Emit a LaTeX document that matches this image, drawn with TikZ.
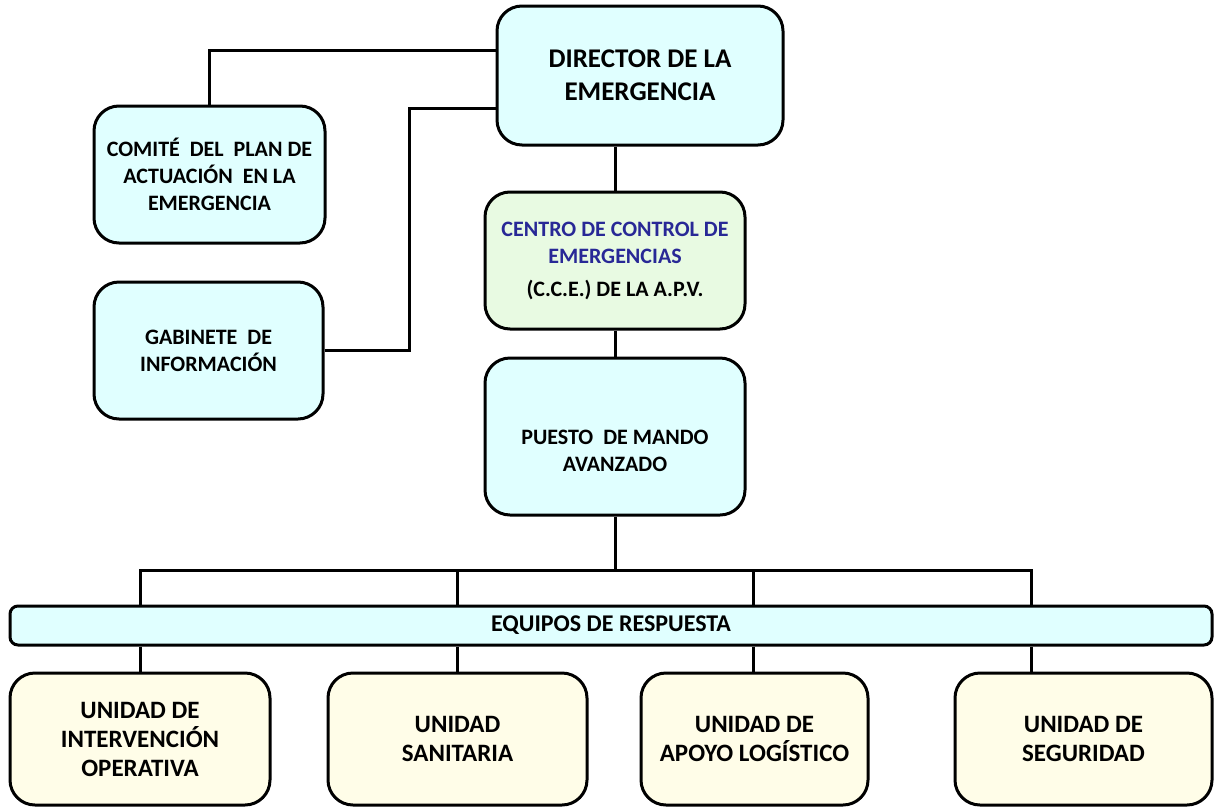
\documentclass[tikz,border=0pt]{standalone}
\usepackage{fontspec}
\setmainfont{Carlito}
\usetikzlibrary{calc}
\definecolor{cyanfill}{RGB}{224,255,255}
\definecolor{greenfill}{RGB}{232,250,226}
\definecolor{yellowfill}{RGB}{255,253,232}
\definecolor{ccetext}{RGB}{40,40,150}
\begin{document}
\begin{tikzpicture}[x=1pt,y=-1pt,
  box/.style={draw,line width=3pt,rounded corners=25pt,align=center,inner sep=0pt,font=\bfseries\fontsize{22}{27}\selectfont},
  cbox/.style={box,fill=cyanfill},
  gbox/.style={box,fill=greenfill},
  ybox/.style={box,fill=yellowfill,font=\bfseries\fontsize{25}{29}\selectfont},
  conn/.style={line width=3pt}]
\useasboundingbox (0,0) rectangle (1215,809);
% nodes
\node[cbox,minimum width=286pt,minimum height=139pt,font=\bfseries\fontsize{27}{33}\selectfont] (dir) at (640,75.5) {DIRECTOR DE LA\\EMERGENCIA};
\node[cbox,minimum width=231pt,minimum height=137pt] (com) at (209.5,174.5) {COMITÉ \ DEL \ PLAN DE\\ACTUACIÓN \ EN LA\\EMERGENCIA};
\node[cbox,minimum width=229pt,minimum height=137pt] (gab) at (208.5,350.5) {GABINETE \ DE\\INFORMACIÓN};
\node[gbox,minimum width=260pt,minimum height=137pt] (cce) at (615,260.5) {\textcolor{ccetext}{CENTRO DE CONTROL DE}\\\textcolor{ccetext}{EMERGENCIAS}\\[6pt](C.C.E.) DE LA A.P.V.};
\node[cbox,minimum width=260pt,minimum height=157pt] (pmv) at (615,436.5) {};
\node[font=\bfseries\fontsize{22}{27}\selectfont,align=center] (pmvt) at (615,451) {PUESTO \ DE MANDO\\AVANZADO};
\node[cbox,rounded corners=8pt,minimum width=1202pt,minimum height=39pt,font=\bfseries\fontsize{24}{27}\selectfont] (bar) at (611,625.5) {EQUIPOS DE RESPUESTA};
\node[ybox,minimum width=260pt,minimum height=132pt] (u1) at (140,739) {UNIDAD DE\\INTERVENCIÓN\\OPERATIVA};
\node[ybox,minimum width=259pt,minimum height=132pt] (u2) at (457.5,739) {UNIDAD\\SANITARIA};
\node[ybox,minimum width=227pt,minimum height=132pt] (u3) at (754.5,739) {UNIDAD DE\\APOYO LOGÍSTICO};
\node[ybox,minimum width=257pt,minimum height=132pt] (u4) at (1083.5,739) {UNIDAD DE\\SEGURIDAD};
% bus coordinates
\coordinate (bc) at (615,570);
\coordinate (b1) at (140,570);
\coordinate (b2) at (457,570);
\coordinate (b3) at (753,570);
\coordinate (b4) at (1031,570);
% connectors
\draw[conn] (com.north) |- (dir.west |- 0,50);
\draw[conn] (gab.east) -- ++(85,0) |- (dir.west |- 0,108);
\draw[conn] (dir.south -| cce.north) -- (cce.north);
\draw[conn] (cce.south) -- (pmv.north);
\draw[conn] (pmv.south) -- (bc);
\draw[conn,line cap=rect] (b1) -- (b4);
\foreach \b/\u in {b1/u1,b2/u2,b3/u3,b4/u4}{
  \draw[conn] (\b) -- (\b |- bar.north);
  \draw[conn] (\b |- bar.south) -- (\b |- \u.north);
}
\end{tikzpicture}
\end{document}
